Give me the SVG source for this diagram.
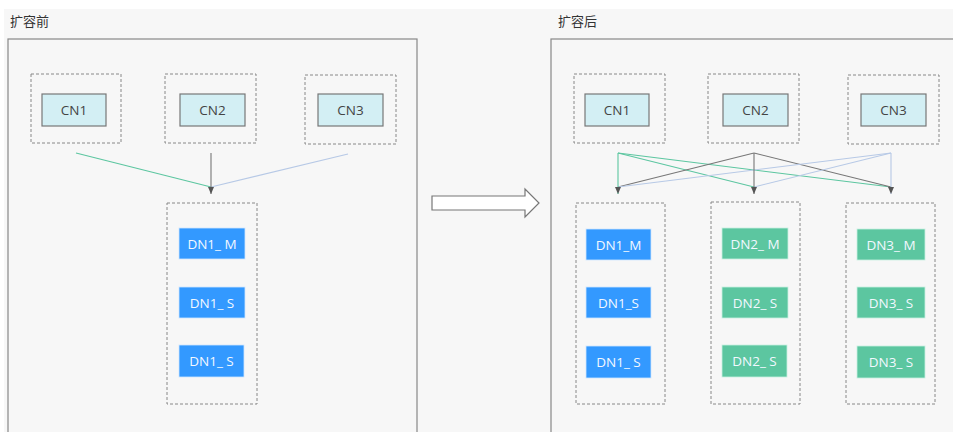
<svg xmlns="http://www.w3.org/2000/svg" width="953" height="432" viewBox="0 0 953 432">
<defs>
<style>
.title{font-family:"Noto Sans CJK SC","Noto Sans",sans-serif;font-size:13px;fill:#333}
.panel{fill:#f7f7f7;stroke:#888;stroke-width:1.2}
.dash{fill:none;stroke:#888;stroke-width:1;stroke-dasharray:3,2}
.cn{fill:#d3eff4;stroke:#777;stroke-width:1.2}
.cnt{font-family:"Open Sans","Noto Sans",sans-serif;font-size:13.5px;fill:#444;text-anchor:middle;dominant-baseline:central}
.dnb{fill:#3399ff;stroke:#cfe6ff;stroke-width:0.8}
.dng{fill:#5cc6a0;stroke:#c9efe1;stroke-width:0.8}
.dnt{font-family:"Open Sans","Noto Sans",sans-serif;font-size:13.5px;fill:#f2f8ff;text-anchor:middle;dominant-baseline:central}
.lg{stroke:#5cc6a0;stroke-width:1.1;fill:none}
.lk{stroke:#777;stroke-width:1.1;fill:none}
.lb{stroke:#b7c9e6;stroke-width:1.1;fill:none}
</style>
<marker id="ah" markerWidth="7" markerHeight="6" refX="7" refY="3" orient="auto" markerUnits="userSpaceOnUse" viewBox="0 0 7 6">
<path d="M0,0 L7,3 L0,6 Z" fill="#555"/>
</marker>
</defs>
<rect x="0" y="0" width="953" height="432" fill="#ffffff"/>
<rect x="4" y="9" width="949" height="423" fill="#f7f7f7"/>
<text class="title" x="10" y="26">扩容前</text>
<text class="title" x="558" y="26">扩容后</text>
<rect class="panel" x="8" y="39" width="409" height="400"/>
<rect class="panel" x="551" y="39" width="410" height="400"/>

<g id="left-cn1"><rect class="dash" x="31" y="74" width="90" height="69"/><rect class="cn" x="42" y="94" width="64" height="32"/><text class="cnt" x="74" y="110">CN1</text></g>
<g id="left-cn2"><rect class="dash" x="165" y="74" width="91" height="69"/><rect class="cn" x="180" y="94" width="65" height="32"/><text class="cnt" x="212.5" y="110">CN2</text></g>
<g id="left-cn3"><rect class="dash" x="305" y="75" width="91" height="69"/><rect class="cn" x="318" y="94" width="65" height="32"/><text class="cnt" x="350.5" y="110">CN3</text></g>
<g id="left-dn">
<rect class="dash" x="167" y="203" width="90" height="201"/>
<rect class="dnb" x="179" y="228" width="66" height="31"/><text class="dnt" x="212" y="243.5">DN1_ M</text>
<rect class="dnb" x="179" y="287" width="66" height="31"/><text class="dnt" x="212" y="302.5">DN1_ S</text>
<rect class="dnb" x="179" y="345" width="65" height="32"/><text class="dnt" x="211.5" y="361">DN1_ S</text>
</g>

<g id="right-cn1"><rect class="dash" x="574" y="74" width="91" height="69"/><rect class="cn" x="585" y="94" width="64" height="32"/><text class="cnt" x="617" y="110">CN1</text></g>
<g id="right-cn2"><rect class="dash" x="708" y="74" width="91" height="69"/><rect class="cn" x="723" y="94" width="65" height="32"/><text class="cnt" x="755.5" y="110">CN2</text></g>
<g id="right-cn3"><rect class="dash" x="848" y="75" width="91" height="69"/><rect class="cn" x="861" y="94" width="65" height="32"/><text class="cnt" x="893.5" y="110">CN3</text></g>
<g id="right-dn1">
<rect class="dash" x="576" y="203" width="89" height="201"/>
<rect class="dnb" x="586" y="229" width="65" height="31"/><text class="dnt" x="618.5" y="244.5">DN1_M</text>
<rect class="dnb" x="586" y="287" width="65" height="31"/><text class="dnt" x="618.5" y="302.5">DN1_S</text>
<rect class="dnb" x="586" y="346" width="65" height="32"/><text class="dnt" x="618.5" y="362">DN1_ S</text>
</g>
<g id="right-dn2">
<rect class="dash" x="711" y="202" width="89" height="202"/>
<rect class="dng" x="722" y="228" width="66" height="31"/><text class="dnt" x="755" y="243.5">DN2_ M</text>
<rect class="dng" x="722" y="287" width="66" height="31"/><text class="dnt" x="755" y="302.5">DN2_ S</text>
<rect class="dng" x="722" y="345" width="65" height="32"/><text class="dnt" x="754.5" y="361">DN2_ S</text>
</g>
<g id="right-dn3">
<rect class="dash" x="846" y="203" width="89" height="201"/>
<rect class="dng" x="857" y="229" width="68" height="31"/><text class="dnt" x="891" y="244.5">DN3_ M</text>
<rect class="dng" x="857" y="287" width="68" height="31"/><text class="dnt" x="891" y="302.5">DN3_ S</text>
<rect class="dng" x="857" y="346" width="68" height="32"/><text class="dnt" x="891" y="362">DN3_ S</text>
</g>

<g id="connectors">
<line class="lg" x1="76" y1="153" x2="211" y2="187"/>
<line class="lb" x1="348" y1="154" x2="211" y2="187"/>
<line class="lk" x1="211" y1="153" x2="211" y2="194" marker-end="url(#ah)"/>

<line class="lg" x1="618" y1="153" x2="754" y2="187"/>
<line class="lg" x1="618" y1="153" x2="891" y2="187"/>
<line class="lk" x1="754" y1="153" x2="618" y2="187"/>
<line class="lk" x1="754" y1="153" x2="891" y2="187"/>
<line class="lb" x1="891" y1="153" x2="618" y2="187"/>
<line class="lb" x1="891" y1="153" x2="754" y2="187"/>
<line class="lg" x1="618" y1="153" x2="618" y2="194" marker-end="url(#ah)"/>
<line class="lk" x1="754" y1="153" x2="754" y2="194" marker-end="url(#ah)"/>
<line class="lb" x1="891" y1="153" x2="891" y2="194" marker-end="url(#ah)"/>
<polygon points="432,196 525,196 525,189 539,203 525,217 525,210 432,210" fill="#ffffff" stroke="#777" stroke-width="1.2"/>
</g>
</svg>
